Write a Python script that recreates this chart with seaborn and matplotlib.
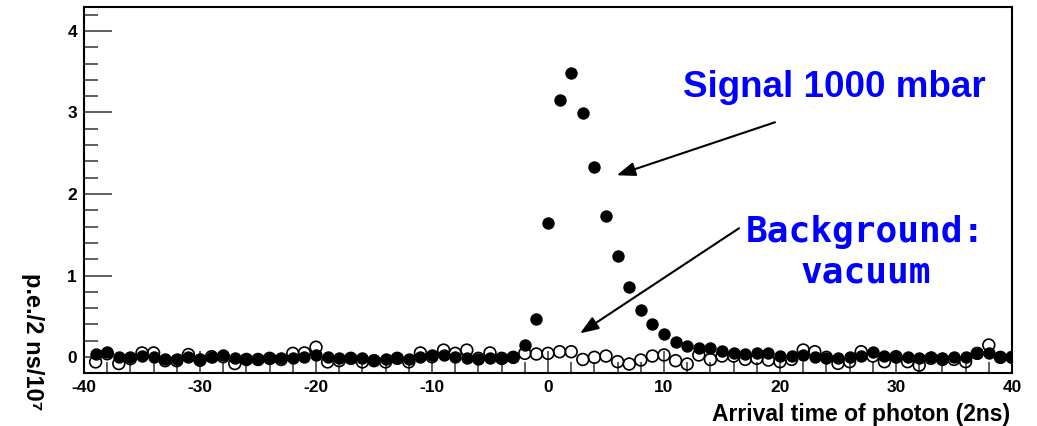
import numpy as np
import pandas as pd
import matplotlib
matplotlib.use("Agg")
import matplotlib.pyplot as plt
from matplotlib.ticker import MultipleLocator
import seaborn as sns

# Arrival-time bins (units of 2 ns)
time_bins = list(range(-39, 41))

# Signal at 1000 mbar, p.e. per bin
signal_1000mbar = [
    0.037, 0.065, 0.0, 0.0, 0.01, -0.005, -0.02, -0.02, -0.005, -0.02,
    0.005, 0.03, -0.015, -0.025, -0.025, -0.015, -0.015, -0.015, 0.005, 0.02,
    -0.005, -0.015, -0.015, -0.015, -0.035, -0.025, -0.015, -0.025, -0.005, 0.02,
    0.025, -0.005, -0.015, -0.025, -0.015, -0.01, 0.0, 0.15, 0.47, 1.64,
    3.15, 3.49, 2.99, 2.33, 1.73, 1.24, 0.86, 0.58, 0.40, 0.28,
    0.19, 0.135, 0.115, 0.105, 0.075, 0.045, 0.037, 0.045, 0.045, 0.012,
    0.012, 0.025, 0.005, -0.015, -0.015, 0.005, 0.012, 0.065, 0.012, 0.005,
    -0.005, -0.015, -0.005, -0.015, -0.005, 0.005, 0.053, 0.053, -0.005, -0.005,
]

# Background measured in vacuum
background_vacuum = [
    -0.06, 0.04, -0.08, -0.02, 0.05, 0.05, -0.045, -0.045, 0.03, -0.04,
    0.004, 0.004, -0.08, -0.03, -0.03, -0.016, -0.03, 0.045, 0.05, 0.12,
    -0.06, -0.045, -0.016, -0.06, -0.045, -0.06, -0.016, -0.06, 0.05, 0.004,
    0.085, 0.045, 0.085, -0.016, 0.05, -0.016, -0.004, 0.045, 0.037, 0.045,
    0.065, 0.065, -0.03, -0.004, 0.012, -0.057, -0.086, -0.037, 0.012, 0.025,
    -0.045, -0.086, 0.025, -0.03, 0.012, 0.012, -0.029, -0.016, -0.037, -0.057,
    -0.029, 0.086, 0.065, -0.004, -0.078, -0.057, 0.065, 0.012, -0.057, 0.004,
    -0.057, -0.1, -0.016, -0.029, -0.029, -0.057, 0.045, 0.147, -0.004, -0.004,
]

x_ticks = [-40, -30, -20, -10, 0, 10, 20, 30, 40]
y_ticks = [0, 1, 2, 3, 4]

df = pd.DataFrame({"t": time_bins, "signal": signal_1000mbar,
                   "background": background_vacuum})

sns.set_theme(style="white")
plt.rcParams["font.family"] = ["Liberation Sans", "DejaVu Sans"]
plt.rcParams["axes.unicode_minus"] = False
plt.rcParams["text.color"] = "black"
plt.rcParams["xtick.color"] = "black"
plt.rcParams["ytick.color"] = "black"
plt.rcParams["xtick.labelcolor"] = "black"
plt.rcParams["ytick.labelcolor"] = "black"

fig = plt.figure(figsize=(10.37, 4.26), dpi=100)
ax = fig.add_axes([84 / 1037, 1 - 373 / 426, (1012 - 84) / 1037, (373 - 7) / 426])

sns.scatterplot(data=df, x="t", y="background", ax=ax, marker="o", s=72,
                facecolor="none", edgecolor="black", linewidth=1.2, zorder=3)
sns.scatterplot(data=df, x="t", y="signal", ax=ax, marker="o", s=80,
                color="black", edgecolor="black", linewidth=0, zorder=4)

ax.set_xlim(-40, 40)
ax.set_ylim(-0.196, 4.294)
ax.set_xlabel("")
ax.set_ylabel("")

ax.set_xticks(x_ticks)
ax.set_yticks(y_ticks)
ax.xaxis.set_minor_locator(MultipleLocator(2))
ax.yaxis.set_minor_locator(MultipleLocator(0.2))

for s in ax.spines.values():
    s.set_color("black")
    s.set_linewidth(1.5)

ax.tick_params(axis="x", which="major", direction="in", length=16, width=1.1,
               color="#333333", pad=5, labelsize=12.5, bottom=True, top=False)
ax.tick_params(axis="x", which="minor", direction="in", length=8, width=1.1,
               color="#333333", bottom=True, top=False)
ax.tick_params(axis="y", which="major", direction="in", length=20, width=1.1,
               color="#333333", pad=5, labelsize=12.5, left=True, right=False)
ax.tick_params(axis="y", which="minor", direction="in", length=10, width=1.1,
               color="#333333", left=True, right=False)
for lab in ax.get_xticklabels() + ax.get_yticklabels():
    lab.set_fontweight("bold")
    lab.set_color("black")

# Axis titles
fig.text(1010 / 1037, 1 - 421.5 / 426, "Arrival time of photon (2ns)",
         ha="right", va="baseline", fontsize=16.5, fontweight="bold",
         color="black")
fig.text(32 / 1037, 1 - 273 / 426, "p.e./2 ns/10⁷", rotation=-90,
         ha="center", va="top", fontsize=17, fontweight="bold", color="black")

# Annotations
arrow = dict(arrowstyle="-|>,head_length=0.8,head_width=0.3", color="black",
             lw=1.5, mutation_scale=14, shrinkA=0, shrinkB=0)
ax.annotate("", xy=(5.92, 2.23), xytext=(19.57, 2.88), arrowprops=arrow, zorder=5)
ax.annotate("", xy=(2.76, 0.29), xytext=(16.47, 1.58), arrowprops=arrow, zorder=5)

ax.text(24.66, 3.19, "Signal 1000 mbar", color="#0000ff", fontsize=26.5,
        fontweight="bold", ha="center", va="baseline")
ax.text(27.4, 0.92, "Background:\nvacuum", color="#0000ff", fontsize=26,
        fontweight="bold", family="DejaVu Sans Mono", ha="center",
        va="baseline", multialignment="center", linespacing=1.22)

fig.savefig("out.png", dpi=100, facecolor="white")
